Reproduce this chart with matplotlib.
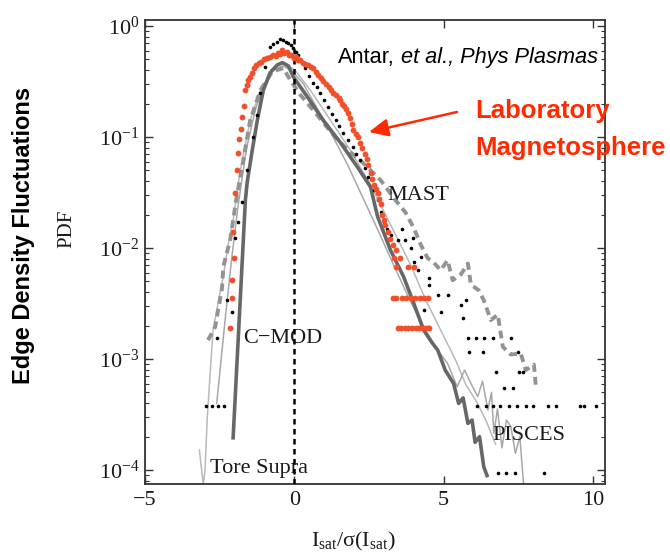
import matplotlib
matplotlib.use("Agg")
import matplotlib.pyplot as plt
import numpy as np
from matplotlib.ticker import LogLocator, NullLocator, FixedLocator
from matplotlib.patches import FancyArrowPatch

plt.rcParams.update({
    "font.family": "Liberation Serif",
    "mathtext.fontset": "custom",
    "mathtext.rm": "Liberation Serif",
    "mathtext.it": "Liberation Serif:italic",
    "mathtext.bf": "Liberation Serif:bold",
})

# ---- normalised ion-saturation current x = I_sat/sigma, PDF given as log10 ----
# Tore Supra (light gray thin line)
ts_x = [-3.18, -3.05, -2.99, -2.92, -2.86, -2.82, -2.72, -2.55, -2.38, -2.22, -2.05,
        -1.81, -1.48, -1.14, -0.74, -0.37, 0.03, 0.54, 1.21, 1.88, 2.55, 3.22, 3.89,
        4.40, 4.90, 5.40, 5.74, 6.07, 6.41, 6.74]
ts_log = [-3.82, -4.13, -4.00, -3.55, -3.30, -3.13, -2.74, -2.49, -2.26, -1.98, -1.75,
          -1.30, -0.85, -0.58, -0.40, -0.33, -0.40, -0.58, -0.85, -1.12, -1.43, -1.79, -2.15,
          -2.47, -2.74, -3.01, -3.23, -3.37, -3.55, -3.77]

# PISCES (light gray thin line)
pis_x = [-2.60, -2.45, -2.30, -2.10, -1.90, -1.60, -1.30, -1.00, -0.70, -0.40, -0.10,
         0.30, 0.80, 1.30, 1.80, 2.30, 2.80, 3.30, 3.80, 4.30, 4.80, 5.13, 5.45, 5.70,
         5.91, 6.14, 6.30, 6.48, 6.60, 6.68, 6.80, 6.95, 7.10, 7.25, 7.40, 7.55, 7.68]
pis_log = [-3.40, -3.00, -2.60, -2.10, -1.65, -1.10, -0.75, -0.52, -0.40, -0.36, -0.40,
           -0.52, -0.76, -1.00, -1.26, -1.55, -1.84, -2.14, -2.43, -2.70, -2.92, -3.04, -3.25,
           -3.10, -3.22, -3.34, -3.20, -3.46, -3.30, -3.67, -3.45, -3.80, -3.55, -3.61, -3.85,
           -3.70, -4.15]

# MAST (gray dashed line)
mast_x = [-2.89, -2.65, -2.42, -2.38, -2.15, -1.95, -1.71, -1.48, -1.14, -0.74, -0.37,
          -0.13, 0.20, 0.70, 1.30, 1.80, 2.21, 2.89, 3.39, 3.72, 4.00, 4.23, 4.46, 4.66,
          4.90, 5.13, 5.30, 5.57, 5.81, 5.91, 6.17, 6.34, 6.58, 6.81, 6.98, 7.25, 7.58,
          7.75, 8.02, 8.09]
mast_log = [-2.83, -2.71, -2.36, -2.17, -1.93, -1.57, -1.21, -0.85, -0.58, -0.41, -0.38,
            -0.49, -0.62, -0.78, -0.98, -1.12, -1.21, -1.39, -1.57, -1.68, -1.82, -1.97, -2.09,
            -2.13, -2.20, -2.11, -2.29, -2.24, -2.14, -2.33, -2.38, -2.47, -2.65, -2.60, -2.89,
            -2.96, -2.95, -3.10, -3.05, -3.26]

# C-MOD (dark gray thick line)
cmod_x = [-2.05, -1.64, -1.58, -1.41, -1.24, -1.04, -0.81, -0.57, -0.40, -0.20, -0.03,
          0.44, 0.97, 1.54, 2.11, 2.55, 2.79, 3.22, 3.66, 4.00, 4.33, 4.60, 4.80, 5.05,
          5.33, 5.50, 5.65, 5.81, 5.95, 6.05, 6.20, 6.34, 6.45]
cmod_log = [-3.71, -1.57, -1.41, -1.12, -0.85, -0.58, -0.42, -0.35, -0.33, -0.36, -0.46,
            -0.64, -0.85, -1.05, -1.27, -1.45, -1.72, -2.02, -2.26, -2.50, -2.74, -2.85, -2.92,
            -3.10, -3.22, -3.40, -3.35, -3.58, -3.55, -3.75, -3.70, -3.97, -4.05]

# black dotted data set
blk_x = [-2.95, -2.75, -2.55, -2.35, -2.58, -2.25, -2.08, -1.98, -1.88, -1.74, -1.58,
         -1.38, -1.25, -1.14, -0.97, -0.81, -0.70, -0.57, -0.47, -0.37, -0.28, -0.20,
         -0.10, -0.03, 0.05, 0.13, 0.25, 0.37, 0.50, 0.64, 0.75, 0.87, 1.00, 1.11, 1.25,
         1.38, 1.50, 1.64, 1.80, 1.95, 2.08, 2.21, 2.35, 2.48, 2.65, 2.79, 2.90, 2.99,
         3.10, 3.22, 3.46, 3.62, 3.72, 3.89, 3.96, 4.00, 4.13, 4.23, 4.33, 4.46, 4.50,
         4.50, 4.80, 4.90, 5.13, 5.57, 5.74, 5.64,
         5.81, 6.07, 6.34, 6.64, 7.25,
         5.84, 6.31, 7.48,
         6.74, 7.52, 7.65,
         7.01, 7.32,
         6.10, 6.40, 6.65, 6.90, 7.20, 7.45, 7.75, 8.00, 8.50, 8.75, 9.55, 9.70, 10.10,
         6.81, 7.10, 7.40, 8.36]
blk_log = [-3.42, -3.42, -3.42, -3.42, -2.81, -2.47, -2.58, -1.91, -1.77, -1.59, -1.30,
           -1.00, -0.80, -0.60, -0.37, -0.19, -0.16, -0.14, -0.12, -0.13, -0.14, -0.15,
           -0.17, -0.20, -0.23, -0.26, -0.32, -0.38, -0.45, -0.51, -0.55, -0.60, -0.67, -0.73, -0.79,
           -0.85, -0.90, -0.96, -1.03, -1.09, -1.15, -1.21, -1.28, -1.36, -1.48, -1.57, -1.68, -1.77,
           -1.83, -1.88, -1.93, -1.83, -1.93, -2.00, -1.91, -2.13, -2.20, -2.08, -2.56, -2.71, -2.27,
           -2.33, -2.42, -2.58, -2.42, -2.51, -2.47, -2.63,
           -2.81, -2.81, -2.81, -2.81, -2.81,
           -2.94, -2.94, -2.94,
           -3.12, -3.12, -3.12,
           -3.26, -3.26,
           -3.42, -3.42, -3.42, -3.42, -3.42, -3.42, -3.42, -3.42, -3.42, -3.42, -3.42, -3.42, -3.42,
           -4.03, -4.03, -4.03, -4.03]

# laboratory magnetosphere (red-orange dots)
lab_x = [-2.15, -2.08, -2.08, -2.01, -2.05, -1.98, -1.92, -1.88, -1.84, -1.80, -1.74,
         -1.70, -1.64, -1.60, -1.55, -1.48, -1.42, -1.35, -1.28, -1.20, -1.10, -1.00,
         -0.91, -0.82, -0.72, -0.62, -0.55, -0.47, -0.40, -0.33, -0.25, -0.18, -0.10,
         -0.02, 0.05, 0.12, 0.20, 0.28, 0.36, 0.45, 0.55, 0.64, 0.72, 0.80, 0.88, 0.97,
         1.06, 1.15, 1.23, 1.31, 1.40, 1.48, 1.54, 1.60, 1.66, 1.72, 1.78, 1.85, 1.92,
         1.98, 2.05, 2.12, 2.21, 2.28, 2.35, 2.42, 2.48, 2.55, 2.60, 2.65, 2.72, 2.79,
         2.85, 2.89, 2.95, 2.99, 3.05, 3.12, 3.20, 3.30, 3.39, 3.32, 3.39, 3.55, 3.80, 4.00,
         3.29, 3.40, 3.62, 3.75, 3.90, 4.05, 4.20, 4.35, 4.46,
         3.46, 3.58, 3.70, 3.82, 3.94, 4.06, 4.18, 4.30, 4.42, 4.50]
lab_log = [-2.72, -2.45, -2.29, -2.09, -1.86, -1.50, -1.30, -1.14, -1.02, -0.93, -0.82,
           -0.72, -0.58, -0.53, -0.49, -0.46, -0.42, -0.38, -0.35, -0.33, -0.32, -0.30,
           -0.29, -0.28, -0.26, -0.27, -0.24, -0.25, -0.22, -0.24, -0.23, -0.26, -0.26,
           -0.29, -0.28, -0.31, -0.31, -0.33, -0.34, -0.35, -0.37, -0.38, -0.41, -0.44, -0.47, -0.50,
           -0.52, -0.55, -0.58, -0.60, -0.62, -0.65, -0.67, -0.70, -0.72, -0.75, -0.78, -0.83, -0.88,
           -0.94, -0.97, -1.00, -1.05, -1.10, -1.15, -1.20, -1.25, -1.32, -1.38, -1.43, -1.47, -1.50,
           -1.56, -1.60, -1.70, -1.75, -1.79, -1.86, -1.92, -1.97, -2.02, -2.09, -2.17, -2.09, -2.17, -2.17,
           -2.45, -2.45, -2.45, -2.45, -2.45, -2.45, -2.45, -2.45, -2.45,
           -2.72, -2.72, -2.72, -2.72, -2.72, -2.72, -2.72, -2.72, -2.72, -2.72]

xtick_values = [-5, 0, 5, 10]
xtick_labels = ["\u22125", "0", "5", "10"]

fig = plt.figure(figsize=(6.7, 5.56), dpi=100)
ax = fig.add_axes([145 / 670, 72 / 556, 460 / 670, 464 / 556])
ax.set_yscale("log")

def pdf(vals):
    return 10.0 ** np.asarray(vals)

ax.plot(ts_x, pdf(ts_log), color="#b9b9b9", lw=1.1, zorder=2)
ax.plot(pis_x, pdf(pis_log), color="#a8a8a8", lw=1.1, zorder=2)
ax.plot(mast_x, pdf(mast_log), color="#939393", lw=2.8, ls=(0, (2.0, 1.3)), zorder=3)
ax.plot(cmod_x, pdf(cmod_log), color="#676767", lw=2.6, zorder=4)
ax.plot(blk_x, pdf(blk_log), ls="none", marker="o", ms=2.6, color="black", mew=0, zorder=5)
ax.axvline(0, color="black", lw=1.8, ls=(0, (2.2, 1.8)), zorder=5.5)
ax.plot(lab_x, pdf(lab_log), ls="none", marker="o", ms=4.2, color="#f0502a", mew=0, zorder=6)

ax.set_xlim(-5, 10.4)
ax.set_ylim(10 ** -4.126, 10 ** 0.054)
ax.xaxis.set_major_locator(FixedLocator(xtick_values))
ax.set_xticklabels(xtick_labels)
ax.xaxis.set_minor_locator(NullLocator())
ax.yaxis.set_major_locator(LogLocator(base=10, numticks=10))
ax.yaxis.set_minor_locator(LogLocator(base=10, subs=np.arange(2, 10), numticks=20))

ax.tick_params(which="both", direction="in", top=True, right=True, color="#333333",
               labelsize=16, labelcolor="#1a1a1a")
ax.tick_params(which="major", length=6, width=1.0)
ax.tick_params(which="minor", length=3, width=0.8)
ax.tick_params(axis="x", pad=5)
ax.tick_params(axis="y", pad=4)
for sp in ax.spines.values():
    sp.set_linewidth(1.3)
    sp.set_color("#333333")

# curve labels
serif = dict(fontsize=16, color="#1a1a1a", va="baseline", family="Liberation Serif")
ax.text(3.12, 10 ** -1.57, "MAST", **serif)
ax.text(-1.71, 10 ** -2.86, "C\u2212MOD", **serif)
ax.text(6.64, 10 ** -3.73, "PISCES", **serif)
ax.text(-2.82, 10 ** -4.03, "Tore Supra", **serif)

# axis titles
fig.text(353 / 670, 1 - 546 / 556, r"$\mathrm{I_{sat}/σ(I_{sat})}$", ha="center",
         va="baseline", fontsize=16, color="#1a1a1a")
fig.text(67 / 670, 1 - 229 / 556, "PDF", rotation=90, ha="center", va="center",
         fontsize=15, color="#1a1a1a")
fig.text(24 / 670, 1 - 235 / 556, "Edge Density Fluctuations", rotation=90, ha="center",
         va="center", fontsize=17, fontweight="bold", family="Liberation Sans", color="black")

# citation
t1 = fig.text(338 / 670, 1 - 63 / 556, "Antar,", fontsize=15.7, family="Liberation Sans",
              va="baseline", color="black")
fig.canvas.draw()
bb = t1.get_window_extent()
fig.text((bb.x1 + 6.0) / 670, 1 - 63 / 556, "et al., Phys Plasmas", fontsize=15.7,
         family="Liberation Sans", style="italic", va="baseline", color="black")

# highlighted data set
red = "#ff2a00"
fig.text(475 / 670, 1 - 118 / 556, "Laboratory", fontsize=18.5, fontweight="bold",
         family="Liberation Sans", color=red, va="baseline")
fig.text(475 / 670, 1 - 155 / 556, "Magnetosphere", fontsize=18.5, fontweight="bold",
         family="Liberation Sans", color=red, va="baseline")
arrow = FancyArrowPatch((457 / 670, 1 - 112 / 556), (369 / 670, 1 - 132 / 556),
                        transform=fig.transFigure, arrowstyle="-|>,head_length=0.58,head_width=0.27",
                        mutation_scale=20, color=red, lw=1.8, shrinkA=0, shrinkB=0)
fig.add_artist(arrow)

fig.savefig("out.png", dpi=100)
